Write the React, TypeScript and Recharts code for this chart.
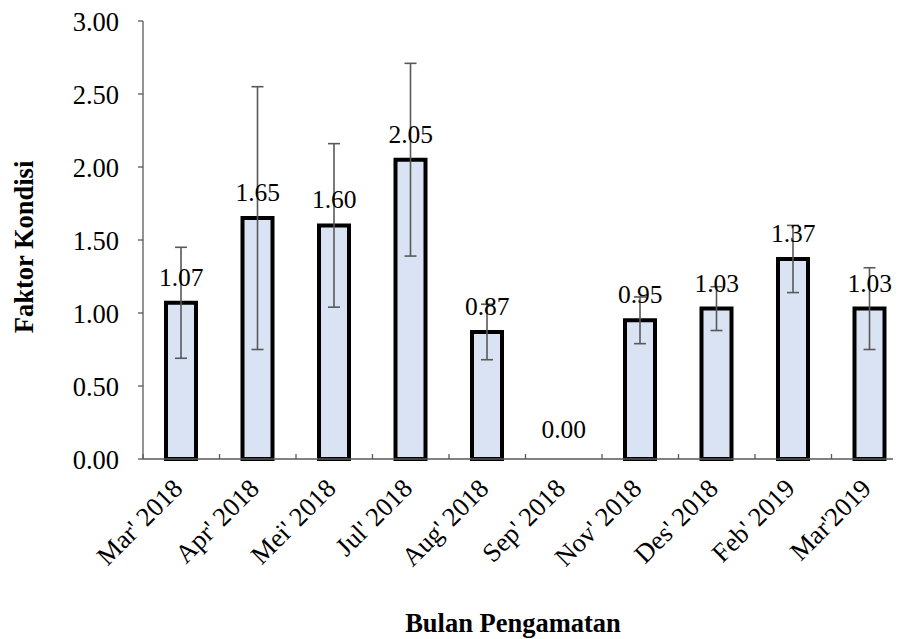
import React from "react";
import { ComposedChart, Bar, Line, XAxis, YAxis, ErrorBar, LabelList } from "recharts";

const categories = [
  "Mar' 2018",
  "Apr' 2018",
  "Mei' 2018",
  "Jul' 2018",
  "Aug' 2018",
  "Sep' 2018",
  "Nov' 2018",
  "Des' 2018",
  "Feb' 2019",
  "Mar'2019",
];
const values = [1.07, 1.65, 1.6, 2.05, 0.87, 0.0, 0.95, 1.03, 1.37, 1.03];
const errors = [0.38, 0.9, 0.56, 0.66, 0.19, 0, 0.16, 0.15, 0.23, 0.28];
const yTicks = [0, 0.5, 1, 1.5, 2, 2.5, 3];

const data = categories.map((c, i) => ({ name: c, value: values[i], err: errors[i] }));

const FONT = "Liberation Serif, serif";
const AXIS = "#595959";

const CHART_W = 910;
const CHART_H = 631;
const MARGIN = { top: 13, right: 10, bottom: 0, left: 0 };
const Y_AXIS_W = 135;
const PLOT_W = CHART_W - MARGIN.left - MARGIN.right - Y_AXIS_W;

const XTick = (props: any) => {
  const { x, y, payload, index } = props;
  const half = PLOT_W / categories.length / 2;
  return (
    <g>
      <line x1={x - half} x2={x - half} y1={y} y2={y - 5} stroke={AXIS} strokeWidth={1.3} />
      {index === categories.length - 1 && (
        <line x1={x + half} x2={x + half} y1={y} y2={y - 5} stroke={AXIS} strokeWidth={1.3} />
      )}
      <text
        transform={`translate(${x + 3}, ${y + 31}) rotate(-45)`}
        textAnchor="end"
        fontFamily={FONT}
        fontSize={26.5}
        fill="#000"
      >
        {payload.value}
      </text>
    </g>
  );
};

const YTick = (props: any) => {
  const { x, y, payload } = props;
  return (
    <text x={x} y={y + 10} textAnchor="end" fontFamily={FONT} fontSize={26.5} fill="#000">
      {Number(payload.value).toFixed(2)}
    </text>
  );
};

const ValueLabel = (props: any) => {
  const { x, y, width, value } = props;
  const extra = Number(value) === 0 ? 4 : 0;
  return (
    <text
      x={x + (width || 0) / 2}
      y={y - 17 - extra}
      textAnchor="middle"
      fontFamily={FONT}
      fontSize={25.5}
      fill="#000"
    >
      {Number(value).toFixed(2)}
    </text>
  );
};

export default function App() {
  return (
    <div style={{ position: "relative", width: 893, height: CHART_H, overflow: "hidden" }}>
      <ComposedChart width={CHART_W} height={CHART_H} data={data} margin={MARGIN} barSize={30}>
        <XAxis
          dataKey="name"
          height={180}
          interval={0}
          tickLine={false}
          tickSize={0}
          tickMargin={0}
          axisLine={{ stroke: AXIS, strokeWidth: 1.3 }}
          tick={<XTick />}
        />
        <YAxis
          width={Y_AXIS_W}
          domain={[0, 3]}
          ticks={yTicks}
          interval={0}
          tickSize={5}
          tickMargin={19}
          axisLine={{ stroke: AXIS, strokeWidth: 1.3 }}
          tickLine={{ stroke: AXIS, strokeWidth: 1.3 }}
          tick={<YTick />}
        />
        <Bar dataKey="value" fill="#DAE3F3" stroke="#000" strokeWidth={4} isAnimationActive={false}>
          <ErrorBar dataKey="err" width={6} stroke={AXIS} strokeWidth={1.6} isAnimationActive={false} />
        </Bar>
        <Line
          dataKey="value"
          stroke="none"
          dot={false}
          activeDot={false}
          legendType="none"
          isAnimationActive={false}
        >
          <LabelList dataKey="value" content={<ValueLabel />} />
        </Line>
      </ComposedChart>
      <svg
        width={893}
        height={CHART_H}
        style={{ position: "absolute", left: 0, top: 0, pointerEvents: "none" }}
      >
        <text
          transform="translate(25, 239) rotate(-90)"
          textAnchor="middle"
          fontFamily={FONT}
          fontWeight="bold"
          fontSize={26.5}
          fill="#000"
        >
          Faktor Kondisi
        </text>
        <text
          x={505}
          y={624}
          textAnchor="middle"
          fontFamily={FONT}
          fontWeight="bold"
          fontSize={26.5}
          fill="#000"
        >
          Bulan Pengamatan
        </text>
      </svg>
    </div>
  );
}
